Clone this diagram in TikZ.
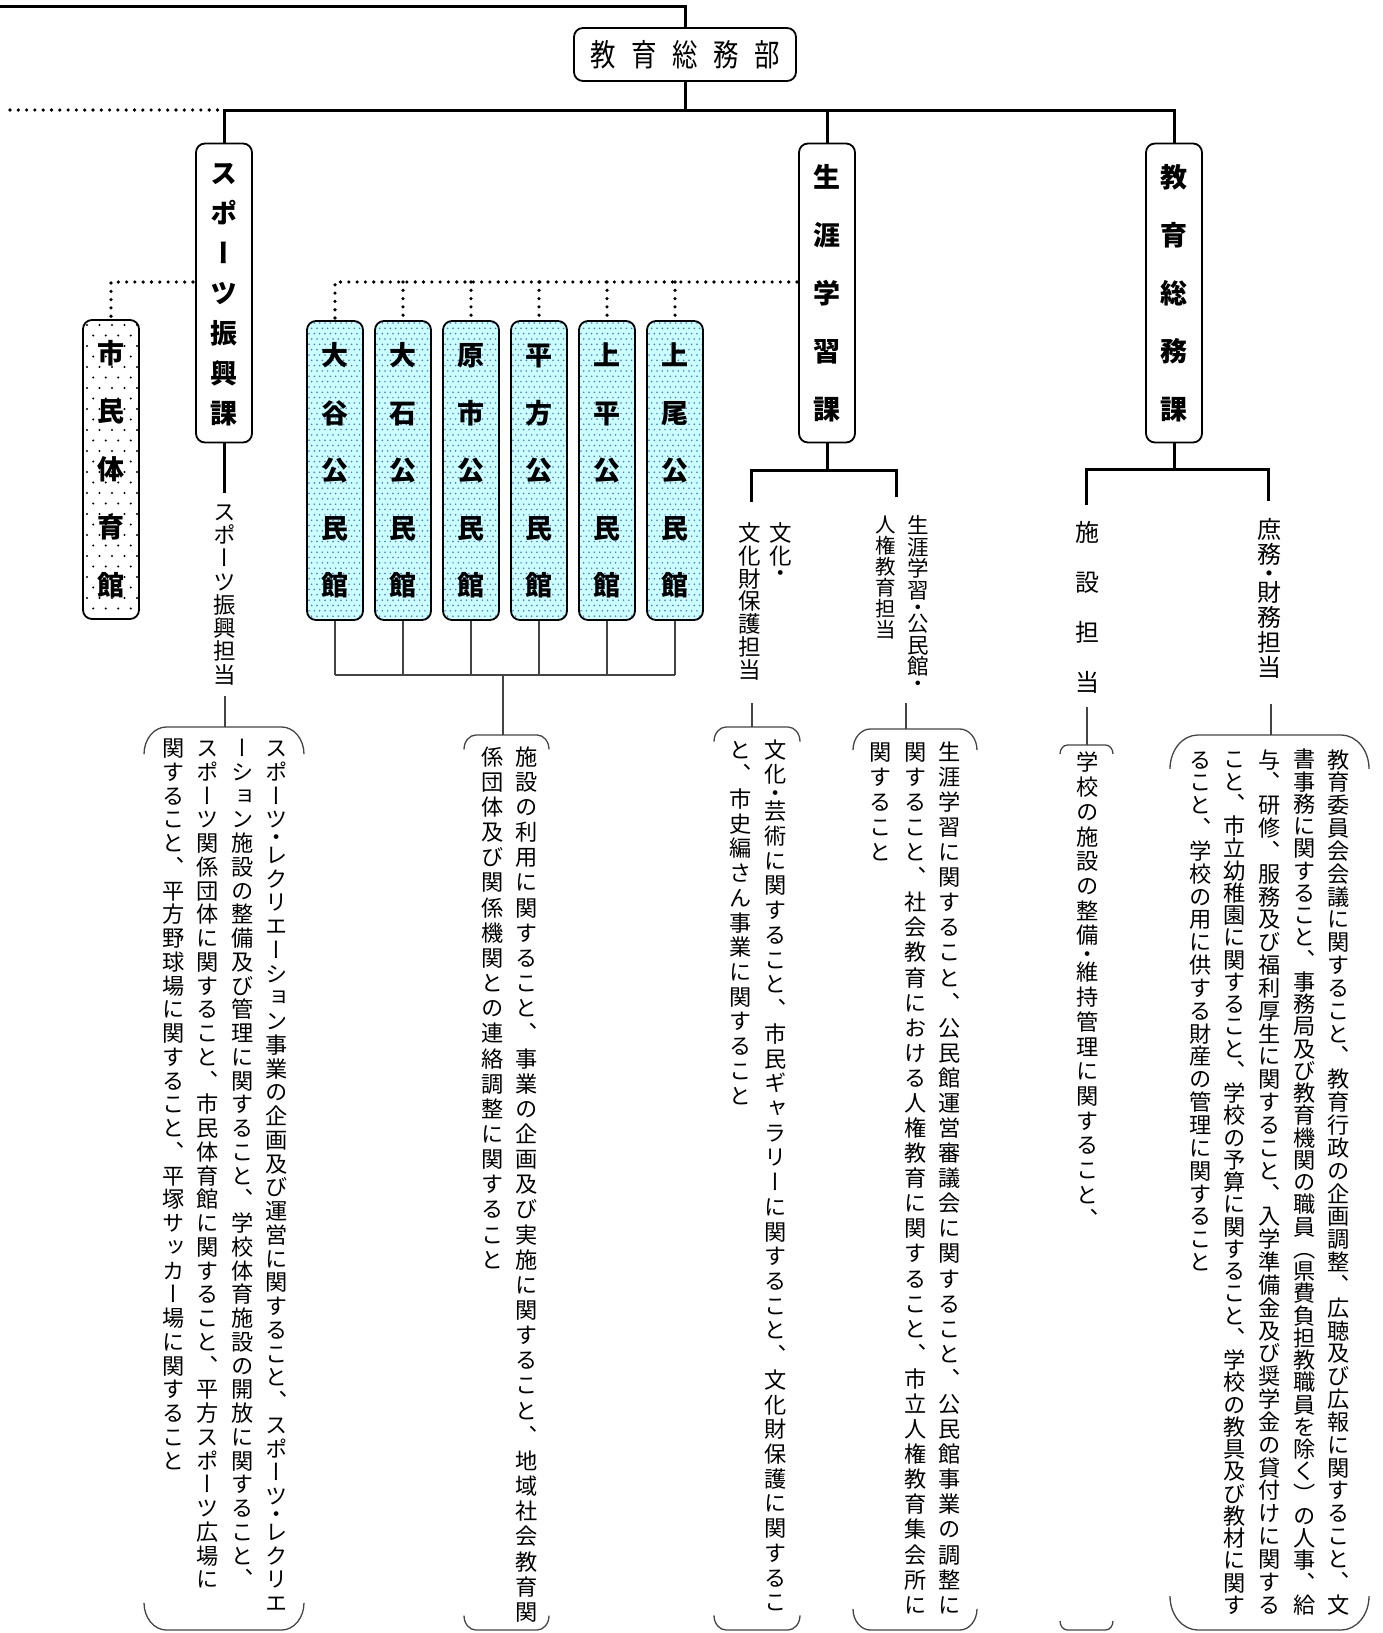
\documentclass[tikz,border=0pt]{standalone}
\usepackage{fontspec}
\usepackage{graphicx}
\setmainfont{Noto Sans CJK JP}
\newfontfamily\vjp{Noto Sans CJK JP}[RawFeature=+vert]
\definecolor{kcyan}{HTML}{CCFFFF}
\definecolor{kdot}{HTML}{3D6DF2}
\definecolor{thin}{HTML}{444444}
% vertical text stacking
\newdimen\vtp
\def\vtstop{\vtstop}
\def\vtloop#1{\ifx#1\vtstop\else\vtcell{#1}\expandafter\vtloop\fi}
\def\vtcell#1{\ifx#1・\vthalf{#1}\else\vtfull{#1}\fi}
\def\vtfull#1{\vbox to\vtp{\kern\dimexpr(\vtp-1em)/2+0.88em\relax\hbox to1em{\hss\smash{#1}\hss}\vss}}
\def\vthalf#1{\vbox to0.5\vtp{\kern\dimexpr(\vtp/2-1em)/2+0.88em\relax\hbox to1em{\hss\smash{#1}\hss}\vss}}
\newcommand\vstr[2]{\vtp=#1\relax\vtop{\offinterlineskip\vtloop#2\vtstop}}
\newcommand\fdesc{\vjp\fontsize{22.2}{22.2}\selectfont}
\newcommand\flab{\vjp\fontsize{22.5}{22.5}\selectfont}
\newcommand\flabs{\vjp\fontsize{21.5}{21.5}\selectfont}
\newcommand\flabt{\vjp\fontsize{20.5}{20.5}\selectfont}
\newcommand\flabl{\vjp\fontsize{24}{24}\selectfont}
\newcommand\fbold{\vjp\bfseries\fontsize{27}{27}\selectfont}
\newcommand\hc[1]{\makebox[41pt]{\scalebox{0.82}[1]{#1}}}
\newcommand\capbox[4]{%
  \pgfmathsetmacro\rx{0.14*(#2-#1)}\pgfmathsetmacro\ry{0.17*(#2-#1)}%
  \draw[capl] (#1,#3+\ry) .. controls (#1,#3+0.448*\ry) and (#1+0.448*\rx,#3) .. (#1+\rx,#3) -- (#2-\rx,#3) .. controls (#2-0.448*\rx,#3) and (#2,#3+0.448*\ry) .. (#2,#3+\ry);
  \draw[capl] (#1,#4-\ry) .. controls (#1,#4-0.448*\ry) and (#1+0.448*\rx,#4) .. (#1+\rx,#4) -- (#2-\rx,#4) .. controls (#2-0.448*\rx,#4) and (#2,#4-0.448*\ry) .. (#2,#4-\ry);
}
\begin{document}
\begin{tikzpicture}[x=1pt,y=-1pt,
  thk/.style={line width=3pt},
  obox/.style={draw, line width=1.8pt, rounded corners=9pt, inner sep=0pt, minimum width=56pt, minimum height=299pt},
  dotl/.style={line width=3.6pt, line cap=round, dash pattern=on 0pt off 8.3pt},
  thn/.style={line width=1.1pt, draw=thin},
  capl/.style={line width=1.3pt, draw=thin},
  vt/.style={inner sep=0pt, anchor=north}]
\useasboundingbox (0,0) rectangle (1383,1633);

% ---------- top ----------
\node[obox, minimum width=222pt, minimum height=53pt] (bu) at (685,54.5)
  {\fontsize{31}{31}\selectfont\hc{教}\hc{育}\hc{総}\hc{務}\hc{部}};
\coordinate (tl) at (0,6);
\coordinate (tr) at (685,6);
\draw[thk] (tl) -- (tr) -- (bu.north);
\coordinate (jn) at (685,110);
\coordinate (jd) at (10,110);
\coordinate (jsp) at (224,110);
\coordinate (jsg) at (827,110);
\coordinate (jks) at (1174,110);

% ---------- section boxes ----------
\node[obox] (sp) at (224,293) {\fbold\vstr{40pt}{スポーツ振興課}};
\node[obox] (sg) at (827,293) {\fbold\vstr{58pt}{生涯学習課}};
\node[obox] (ks) at (1174,293) {\fbold\vstr{58pt}{教育総務課}};

\draw[thk] (bu.south) -- (jn);
\draw[dotl] (jd) -- (jsp);
\draw[thk] (sp.north) -- (jsp) -- (jks) -- (ks.north);
\draw[thk] (jsg) -- (sg.north);

% ---------- 市民体育館 ----------
\begin{scope}
  \clip[rounded corners=9pt] (83,320) rectangle (139,619);
  \foreach \j in {0,...,28}{
    \pgfmathsetmacro\off{mod(\j,2)*6.25}
    \foreach \i in {0,...,4}{
      \fill[black] (87+\off+\i*12.5, 325+\j*10.5) circle (1.1pt);
    }}
\end{scope}
\node[obox] (sh) at (111,469.5) {\fbold\vstr{58pt}{市民体育館}};
\coordinate (dsh) at (111,282);
\coordinate (dsp) at (193,282);
\draw[dotl] (dsp) -- (dsh) -- (sh.north);

% ---------- 公民館 ----------
\foreach \cx in {335,403,471,539,607,675}{
  \begin{scope}
    \clip[rounded corners=9pt] (\cx-28,321) rectangle (\cx+28,620);
    \fill[kcyan] (\cx-28,321) rectangle (\cx+28,620);
    \foreach \j in {0,...,56}{
      \pgfmathsetmacro\off{mod(\j,2)*2.67}
      \foreach \i in {0,...,10}{
        \fill[kdot] (\cx-26+\off+\i*5.33, 323+\j*5.33) circle (0.85pt);
      }}
  \end{scope}}
\node[obox] (k1) at (335,470.5) {\fbold\vstr{57.5pt}{大谷公民館}};
\node[obox] (k2) at (403,470.5) {\fbold\vstr{57.5pt}{大石公民館}};
\node[obox] (k3) at (471,470.5) {\fbold\vstr{57.5pt}{原市公民館}};
\node[obox] (k4) at (539,470.5) {\fbold\vstr{57.5pt}{平方公民館}};
\node[obox] (k5) at (607,470.5) {\fbold\vstr{57.5pt}{上平公民館}};
\node[obox] (k6) at (675,470.5) {\fbold\vstr{57.5pt}{上尾公民館}};
\coordinate (dk) at (797,282);
\draw[dotl] (dk) -- (k1.north |- dk) -- (k1.north);
\foreach \k in {k2,k3,k4,k5,k6}{\draw[dotl] (\k.north |- dk) -- (\k.north);}

\coordinate (kc) at (503,675);
\foreach \k in {k1,k2,k3,k4,k5,k6}{\draw[thn] (\k.south) -- (\k.south |- kc);}
\draw[thn] (k1.south |- kc) -- (k6.south |- kc);

% ---------- sub-section labels ----------
\coordinate (spb) at (224,493);
\draw[thk] (sp.south) -- (spb);
\node[vt, font=\flab] (lsp) at (225,500) {\vstr{23.25pt}{スポーツ振興担当}};

\coordinate (sgj) at (827,470);
\coordinate (sga) at (751,470);
\coordinate (sgb) at (896,470);
\coordinate (sgae) at (751,502);
\coordinate (sgbe) at (896,497);
\draw[thk] (sg.south) -- (sgj);
\draw[thk] (sgae) -- (sga) -- (sgb) -- (sgbe);
\node[vt, font=\flab] (lbk1) at (781,521) {\vstr{22.9pt}{文化・}};
\node[vt, font=\flab] (lbk2) at (750,521) {\vstr{22.9pt}{文化財保護担当}};
\node[vt, font=\flabs] (lsg1) at (918,514) {\vstr{21.8pt}{生涯学習・公民館・}};
\node[vt, font=\flabt] (lsg2) at (886,514) {\vstr{21pt}{人権教育担当}};

\coordinate (ksj) at (1174,469);
\coordinate (ksa) at (1086,469);
\coordinate (ksb) at (1268,469);
\coordinate (ksae) at (1086,505);
\coordinate (ksbe) at (1268,501);
\draw[thk] (ks.south) -- (ksj);
\draw[thk] (ksae) -- (ksa) -- (ksb) -- (ksbe);
\node[vt, font=\flabl] (lsh) at (1087,507) {\vstr{50pt}{施設担当}};
\node[vt, font=\flabl] (lsm) at (1269,517) {\vstr{25pt}{庶務・財務担当}};

% ---------- description boxes ----------
\capbox{144}{304}{727}{1630}
\capbox{464}{549}{735}{1630}
\capbox{714}{800}{727}{1630}
\capbox{853}{977}{729}{1630}
\capbox{1060}{1113}{745}{1630}
\capbox{1170}{1369}{735}{1630}

\coordinate (c1a) at (225,696);  \coordinate (c1b) at (225,727);
\coordinate (c2b) at (503,735);
\coordinate (c3a) at (752,703);  \coordinate (c3b) at (752,727);
\coordinate (c4a) at (906,703);  \coordinate (c4b) at (906,729);
\coordinate (c5a) at (1087,707); \coordinate (c5b) at (1087,745);
\coordinate (c6a) at (1271,704); \coordinate (c6b) at (1271,735);
\draw[thn] (c1a) -- (c1b);
\draw[thn] (kc) -- (c2b);
\draw[thn] (c3a) -- (c3b);
\draw[thn] (c4a) -- (c4b);
\draw[thn] (c5a) -- (c5b);
\draw[thn] (c6a) -- (c6b);

% box 1
\node[vt, font=\fdesc] (d1a) at (277,736) {\vstr{23.75pt}{スポーツ・レクリエーション事業の企画及び運営に関すること、スポーツ・レクリエ}};
\node[vt, font=\fdesc] (d1b) at (242.5,736) {\vstr{23.75pt}{ーション施設の整備及び管理に関すること、学校体育施設の開放に関すること、}};
\node[vt, font=\fdesc] (d1c) at (208,736) {\vstr{23.75pt}{スポーツ関係団体に関すること、市民体育館に関すること、平方スポーツ広場に}};
\node[vt, font=\fdesc] (d1d) at (173.5,736) {\vstr{23.75pt}{関すること、平方野球場に関すること、平塚サッカー場に関すること}};
% box 2
\node[vt, font=\fdesc] (d2a) at (527,744) {\vstr{25.15pt}{施設の利用に関すること、事業の企画及び実施に関すること、地域社会教育関}};
\node[vt, font=\fdesc] (d2b) at (493,744) {\vstr{25.15pt}{係団体及び関係機関との連絡調整に関すること}};
% box 3
\node[vt, font=\fdesc] (d3a) at (776,737) {\vstr{24.72pt}{文化・芸術に関すること、市民ギャラリーに関すること、文化財保護に関するこ}};
\node[vt, font=\fdesc] (d3b) at (741,737) {\vstr{24.72pt}{と、市史編さん事業に関すること}};
% box 4
\node[vt, font=\fdesc] (d4a) at (950,739) {\vstr{25.09pt}{生涯学習に関すること、公民館運営審議会に関すること、公民館事業の調整に}};
\node[vt, font=\fdesc] (d4b) at (915.5,739) {\vstr{25.09pt}{関すること、社会教育における人権教育に関すること、市立人権教育集会所に}};
\node[vt, font=\fdesc] (d4c) at (881,739) {\vstr{25.09pt}{関すること}};
% box 5
\node[vt, font=\fdesc] (d5a) at (1088,750) {\vstr{24.7pt}{学校の施設の整備・維持管理に関すること、}};
% box 6
\node[vt, font=\fdesc] (d6a) at (1339,748) {\vstr{22.84pt}{教育委員会会議に関すること、教育行政の企画調整、広聴及び広報に関すること、文}};
\node[vt, font=\fdesc] (d6b) at (1304.3,748) {\vstr{22.25pt}{書事務に関すること、事務局及び教育機関の職員（県費負担教職員を除く）の人事、給}};
\node[vt, font=\fdesc] (d6c) at (1269.6,748) {\vstr{22.84pt}{与、研修、服務及び福利厚生に関すること、入学準備金及び奨学金の貸付けに関する}};
\node[vt, font=\fdesc] (d6d) at (1234.9,748) {\vstr{22.25pt}{こと、市立幼稚園に関すること、学校の予算に関すること、学校の教具及び教材に関す}};
\node[vt, font=\fdesc] (d6e) at (1200.2,748) {\vstr{22.84pt}{ること、学校の用に供する財産の管理に関すること}};
\end{tikzpicture}
\end{document}
